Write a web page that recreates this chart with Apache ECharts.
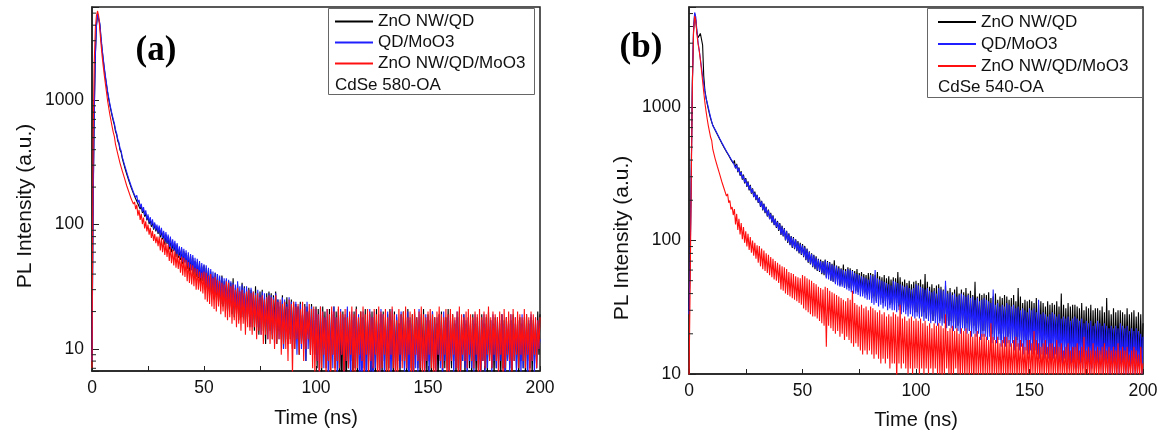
<!DOCTYPE html>
<html>
<head>
<meta charset="utf-8">
<script src="https://cdn.jsdelivr.net/npm/echarts@6/dist/echarts.min.js"></script>
<style>
  html, body { margin: 0; padding: 0; background: #fff; }
  #chart { width: 1164px; height: 435px; }
</style>
</head>
<body>
<div id="chart"></div>
<script>
// Labels
const seriesNames = ['ZnO NW/QD', 'QD/MoO3', 'ZnO NW/QD/MoO3'];
const sampleNotes = ['CdSe 580-OA', 'CdSe 540-OA'];
const panelTags = ['(a)', '(b)'];
const timeTicks = [0, 50, 100, 150, 200];
const intensityTicks = [10, 100, 1000];

// Time channels: 0 to 200 ns in 0.5 ns steps (401 channels); each row below covers 10 ns
const times = [];
for (let k = 0; k <= 400; k++) times.push(k * 0.5);

// ---- Panel (a): CdSe 580-OA ----
const aNwQd = [
  9, 150, 800, 2300, 4000, 4900, 5000, 4050, 3150, 2550, 2120, 1780, 1520, 1310, 1140, 1010, 905, 820, 745, 680,
  630, 560, 528, 470, 447, 398, 381, 341, 329, 293, 286, 255, 251, 224, 219, 198, 196, 178, 177, 161,
  166, 147, 152, 133, 143, 124, 132, 116, 124, 108, 117, 101, 111, 96, 106, 91, 101, 88, 96, 84,
  95, 79, 90, 76, 86, 69, 83, 70, 80, 63, 78, 60, 72, 61, 70, 55, 69, 54, 63, 52,
  64, 48, 61, 50, 59, 44, 57, 42, 56, 43, 54, 39, 51, 38, 50, 37, 49, 34, 46, 35,
  47, 30, 45, 32, 44, 27, 42, 28, 38, 25, 41, 26, 40, 24, 36, 23, 39, 22, 35, 24,
  36, 20, 35, 24, 34, 19, 37, 18, 31, 21, 33, 17, 29, 19, 34, 18, 32, 16, 30, 19,
  31, 15, 30, 19, 28, 14, 32, 15, 25, 13, 29, 17, 30, 14, 26, 11, 28, 16, 29, 14,
  28, 12, 27, 16, 29, 11, 25, 14, 22, 12, 27, 10, 24, 15, 26, 11, 21, 12, 25, 10,
  24, 10, 23, 14, 22, 9, 24, 11, 19, 10, 23, 8, 22, 13, 20, 9, 23, 11, 17, 9,
  22, 7, 21, 9, 19, 6, 22, 10, 20, 7, 17, 8, 21, 6, 19, 9, 22, 7, 20, 8,
  21, 5, 19, 4, 20, 6, 18, 4, 21, 7, 19, 8, 17, 5, 20, 7, 22, 6, 18, 9,
  20, 7, 18, 8, 21, 6, 17, 9, 19, 5, 20, 8, 18, 6, 21, 7, 16, 9, 19, 6,
  20, 8, 18, 5, 19, 7, 21, 9, 17, 6, 20, 7, 18, 8, 16, 6, 19, 9, 20, 7,
  18, 6, 21, 8, 17, 7, 19, 5, 20, 9, 18, 7, 16, 6, 19, 8, 21, 7, 17, 6,
  19, 8, 17, 6, 20, 7, 18, 9, 16, 5, 19, 8, 20, 6, 17, 7, 18, 8, 21, 6,
  17, 7, 19, 8, 16, 6, 18, 7, 20, 5, 17, 8, 19, 6, 16, 9, 18, 7, 17, 6,
  19, 8, 16, 6, 18, 7, 17, 5, 19, 8, 16, 7, 18, 6, 20, 8, 17, 7, 16, 6,
  18, 7, 17, 8, 16, 6, 19, 7, 17, 5, 18, 8, 16, 7, 17, 6, 19, 8, 16, 7,
  17, 6, 18, 8, 16, 7, 17, 6, 19, 8, 16, 7, 18, 6, 17, 8, 16, 7, 20, 9,
  19
];
const aQdMo = [
  8, 130, 760, 2250, 3950, 4950, 5050, 4150, 3250, 2620, 2180, 1830, 1560, 1350, 1170, 1040, 930, 840, 765, 700,
  650, 580, 541, 486, 460, 411, 392, 350, 338, 303, 294, 264, 258, 230, 227, 204, 203, 182, 183, 165,
  172, 150, 158, 137, 147, 127, 138, 119, 130, 110, 121, 104, 115, 99, 110, 93, 104, 90, 100, 86,
  98, 82, 94, 78, 89, 73, 87, 71, 83, 66, 80, 64, 76, 62, 74, 58, 71, 56, 67, 54,
  66, 50, 64, 49, 62, 46, 60, 45, 58, 43, 57, 41, 54, 40, 53, 38, 51, 37, 49, 36,
  48, 32, 47, 31, 45, 29, 44, 30, 42, 27, 41, 28, 40, 26, 39, 25, 38, 24, 37, 23,
  37, 21, 36, 22, 35, 20, 34, 21, 33, 19, 35, 20, 32, 18, 33, 19, 31, 17, 32, 18,
  30, 16, 31, 15, 29, 17, 28, 14, 30, 15, 27, 13, 29, 16, 28, 14, 26, 12, 28, 15,
  27, 13, 26, 11, 28, 14, 25, 12, 24, 13, 26, 10, 25, 12, 23, 11, 26, 13, 24, 10,
  23, 11, 24, 9, 22, 12, 23, 10, 21, 11, 22, 8, 24, 10, 20, 12, 22, 9, 21, 10,
  21, 8, 19, 6, 22, 9, 20, 7, 18, 10, 21, 5, 19, 8, 20, 7, 22, 9, 18, 6,
  20, 7, 21, 9, 18, 6, 19, 8, 22, 7, 17, 5, 20, 9, 18, 7, 21, 8, 19, 4,
  18, 4, 20, 7, 17, 4, 19, 8, 21, 6, 18, 4, 20, 7, 17, 9, 19, 5, 21, 8,
  19, 6, 17, 8, 20, 7, 18, 5, 21, 8, 17, 6, 19, 9, 16, 7, 20, 8, 18, 6,
  17, 7, 20, 4, 18, 8, 16, 4, 19, 7, 17, 6, 21, 8, 18, 7, 16, 5, 19, 8,
  18, 6, 17, 8, 20, 7, 16, 6, 18, 9, 19, 7, 17, 5, 20, 8, 16, 7, 18, 6,
  19, 8, 16, 6, 17, 7, 20, 9, 18, 6, 16, 8, 19, 7, 17, 5, 18, 8, 16, 7,
  17, 6, 19, 8, 16, 7, 18, 5, 17, 8, 19, 6, 16, 7, 18, 9, 17, 6, 19, 8,
  16, 7, 18, 6, 17, 8, 19, 7, 16, 5, 18, 8, 17, 6, 19, 7, 16, 8, 18, 6,
  17, 8, 16, 6, 19, 7, 18, 8, 16, 5, 17, 7, 19, 8, 16, 6, 18, 7, 17, 10,
  12
];
const aAll = [
  7, 500, 2000, 3800, 4800, 5200, 4700, 3700, 2850, 2280, 1880, 1580, 1340, 1150, 980, 860, 760, 680, 610, 550,
  508, 441, 428, 370, 361, 312, 310, 270, 268, 236, 236, 205, 209, 182, 186, 161, 167, 146, 152, 133,
  144, 118, 131, 109, 122, 101, 114, 93, 106, 88, 100, 83, 94, 78, 89, 74, 84, 71, 80, 67,
  80, 62, 78, 60, 76, 57, 71, 55, 69, 51, 66, 49, 63, 47, 61, 45, 58, 44, 56, 41,
  55, 39, 54, 38, 52, 35, 50, 34, 48, 33, 47, 32, 45, 30, 44, 30, 42, 29, 41, 28,
  42, 25, 41, 24, 39, 23, 40, 22, 37, 21, 38, 20, 36, 22, 35, 19, 34, 20, 33, 18,
  35, 17, 34, 18, 32, 16, 33, 17, 30, 15, 31, 16, 29, 14, 30, 16, 28, 13, 29, 15,
  30, 14, 28, 13, 29, 15, 27, 12, 28, 14, 26, 13, 27, 11, 25, 13, 26, 12, 27, 11,
  26, 12, 25, 10, 27, 11, 24, 12, 25, 9, 23, 11, 24, 10, 22, 8, 25, 11, 23, 6,
  24, 10, 22, 12, 23, 9, 21, 11, 24, 8, 22, 10, 20, 12, 23, 9, 21, 7, 22, 6,
  21, 8, 19, 5, 22, 7, 20, 9, 18, 6, 21, 8, 19, 5, 22, 9, 20, 6, 18, 8,
  22, 7, 20, 9, 19, 5, 21, 8, 18, 7, 20, 9, 22, 6, 19, 6, 21, 7, 18, 9,
  20, 8, 22, 5, 19, 9, 21, 6, 20, 8, 18, 7, 21, 9, 19, 5, 22, 6, 20, 7,
  19, 9, 21, 6, 18, 6, 20, 9, 22, 7, 19, 5, 17, 6, 21, 9, 19, 7, 20, 8,
  22, 7, 18, 9, 20, 5, 19, 6, 21, 9, 18, 8, 20, 7, 22, 6, 19, 6, 18, 8,
  20, 9, 21, 7, 19, 5, 18, 6, 20, 9, 22, 8, 19, 7, 18, 9, 21, 5, 19, 6,
  21, 8, 19, 9, 18, 7, 20, 5, 22, 6, 19, 9, 18, 8, 20, 7, 21, 9, 19, 8,
  18, 7, 20, 9, 19, 5, 21, 6, 18, 8, 20, 7, 19, 9, 22, 8, 18, 7, 20, 9,
  19, 8, 18, 6, 20, 9, 19, 5, 21, 7, 18, 9, 20, 8, 19, 6, 21, 8, 18, 9,
  20, 7, 19, 9, 18, 8, 21, 7, 19, 9, 18, 6, 20, 8, 19, 9, 18, 7, 17, 10,
  18
];

// ---- Panel (b): CdSe 540-OA ----
const bNwQd = [
  30, 70, 350, 1600, 3700, 5000, 4400, 3600, 3300, 3350, 3550, 3600, 2900, 1700, 1330, 1180, 1060, 965, 885, 820,
  770, 728, 735, 671, 675, 621, 628, 574, 580, 532, 541, 494, 506, 462, 472, 432, 442, 403, 414, 378,
  398, 346, 375, 324, 352, 305, 330, 285, 311, 267, 293, 252, 277, 237, 261, 224, 246, 211, 232, 200,
  220, 191, 210, 178, 198, 168, 189, 160, 179, 151, 170, 144, 161, 136, 154, 130, 146, 124, 140, 118,
  135, 110, 129, 107, 124, 100, 118, 96, 113, 92, 108, 88, 106, 86, 102, 83, 99, 80, 96, 78,
  94, 75, 91, 71, 87, 68, 83, 66, 80, 63, 78, 61, 76, 59, 73, 58, 72, 56, 70, 55,
  72, 53, 70, 55, 69, 50, 67, 49, 71, 48, 65, 51, 64, 46, 62, 47, 66, 44, 61, 45,
  63, 44, 62, 43, 60, 45, 59, 42, 61, 41, 57, 43, 58, 40, 56, 41, 55, 39, 57, 40,
  57, 37, 56, 38, 55, 35, 58, 36, 54, 37, 53, 34, 55, 35, 52, 36, 54, 33, 51, 34,
  53, 33, 52, 34, 58, 32, 53, 31, 49, 33, 51, 30, 48, 32, 50, 31, 47, 30, 49, 29,
  50, 29, 48, 28, 51, 27, 47, 29, 56, 26, 49, 27, 45, 28, 47, 25, 44, 27, 46, 26,
  47, 25, 45, 26, 43, 24, 46, 25, 42, 23, 44, 25, 41, 24, 43, 22, 45, 23, 40, 24,
  43, 23, 41, 22, 44, 24, 40, 21, 42, 22, 39, 23, 49, 21, 38, 22, 40, 20, 39, 21,
  40, 21, 39, 20, 41, 22, 37, 20, 38, 19, 40, 21, 36, 20, 38, 18, 37, 20, 39, 19,
  38, 19, 36, 20, 37, 18, 39, 19, 35, 18, 44, 19, 38, 17, 34, 19, 36, 18, 35, 17,
  36, 18, 35, 17, 34, 19, 37, 17, 33, 18, 35, 16, 34, 18, 32, 17, 35, 16, 33, 17,
  34, 17, 33, 16, 35, 17, 32, 16, 40, 15, 33, 17, 31, 16, 34, 15, 32, 16, 33, 15,
  33, 16, 32, 15, 31, 16, 34, 15, 30, 16, 32, 14, 31, 15, 33, 14, 30, 15, 31, 14,
  31, 15, 30, 14, 32, 15, 29, 14, 37, 13, 30, 15, 28, 14, 31, 13, 29, 14, 30, 13,
  30, 14, 29, 13, 28, 14, 31, 13, 28, 14, 29, 12, 30, 13, 27, 14, 29, 12, 28, 13,
  24
];
const bQdMo = [
  28, 65, 320, 1550, 3800, 5100, 4700, 3700, 3050, 2650, 2300, 1980, 1700, 1480, 1300, 1160, 1080, 990, 910, 840,
  780, 722, 728, 676, 668, 628, 617, 580, 571, 538, 533, 500, 497, 466, 465, 436, 435, 407, 407, 382,
  392, 348, 369, 329, 347, 309, 325, 290, 306, 272, 288, 256, 272, 240, 256, 227, 242, 213, 228, 203,
  218, 193, 207, 180, 196, 170, 187, 162, 177, 153, 168, 145, 159, 138, 152, 131, 144, 126, 138, 120,
  133, 111, 127, 108, 122, 101, 117, 98, 111, 93, 107, 89, 104, 87, 101, 84, 97, 81, 94, 79,
  92, 76, 89, 72, 86, 69, 82, 67, 79, 64, 77, 62, 74, 60, 72, 59, 70, 57, 69, 56,
  71, 52, 69, 51, 68, 50, 66, 49, 65, 47, 64, 46, 62, 45, 61, 45, 60, 44, 59, 43,
  61, 42, 60, 41, 59, 40, 57, 40, 56, 39, 55, 38, 54, 38, 53, 37, 52, 36, 51, 36,
  55, 34, 54, 33, 60, 34, 52, 32, 51, 33, 50, 31, 49, 32, 48, 30, 47, 31, 46, 30,
  50, 30, 49, 29, 48, 30, 47, 28, 46, 29, 45, 28, 46, 27, 44, 28, 43, 27, 44, 26,
  47, 27, 46, 26, 45, 27, 44, 25, 43, 26, 44, 25, 42, 24, 41, 25, 42, 24, 40, 23,
  44, 24, 43, 23, 42, 24, 50, 22, 40, 23, 41, 22, 39, 21, 40, 22, 38, 21, 39, 20,
  40, 22, 39, 21, 38, 20, 39, 21, 37, 19, 38, 20, 36, 19, 37, 20, 35, 18, 36, 19,
  37, 19, 36, 18, 35, 19, 34, 17, 43, 18, 33, 17, 34, 18, 32, 16, 33, 17, 32, 16,
  34, 17, 33, 16, 32, 17, 33, 15, 31, 16, 32, 15, 30, 16, 31, 14, 30, 15, 29, 14,
  31, 15, 30, 14, 31, 15, 29, 14, 36, 13, 28, 14, 29, 13, 28, 14, 27, 13, 28, 12,
  29, 13, 28, 14, 27, 12, 28, 13, 26, 12, 27, 13, 26, 12, 27, 11, 25, 12, 26, 11,
  27, 12, 26, 11, 25, 12, 26, 11, 24, 12, 25, 11, 24, 10, 25, 11, 23, 12, 24, 11,
  25, 11, 24, 12, 23, 10, 24, 11, 23, 12, 22, 10, 23, 11, 22, 10, 23, 11, 22, 10,
  24, 11, 23, 10, 22, 11, 23, 10, 21, 11, 22, 10, 21, 11, 22, 10, 21, 11, 20, 10,
  19
];
const bAll = [
  9, 45, 280, 1450, 3600, 4800, 4400, 3500, 2950, 2650, 2250, 1880, 1560, 1290, 1080, 930, 815, 725, 655, 595,
  560, 480, 476, 410, 413, 358, 362, 314, 318, 274, 281, 243, 250, 215, 223, 192, 199, 171, 178, 155,
  172, 132, 158, 120, 145, 111, 135, 102, 126, 96, 117, 90, 112, 85, 106, 81, 100, 77, 96, 73,
  92, 68, 91, 64, 87, 61, 84, 59, 80, 57, 78, 55, 75, 53, 73, 51, 70, 50, 68, 48,
  66, 43, 64, 42, 63, 40, 61, 39, 58, 38, 57, 37, 56, 36, 54, 35, 53, 34, 52, 33,
  55, 31, 54, 30, 52, 29, 51, 28, 50, 27, 48, 27, 47, 26, 45, 25, 44, 24, 43, 23,
  45, 16, 44, 23, 42, 22, 41, 21, 40, 20, 39, 21, 38, 19, 37, 20, 36, 18, 35, 19,
  37, 18, 36, 17, 42, 16, 34, 17, 33, 16, 32, 15, 33, 14, 31, 15, 32, 14, 30, 15,
  32, 14, 31, 13, 30, 14, 29, 13, 30, 12, 28, 13, 29, 12, 27, 13, 28, 11, 27, 12,
  29, 12, 28, 9, 27, 12, 33, 11, 26, 12, 27, 11, 25, 10, 26, 11, 27, 10, 25, 11,
  26, 11, 25, 10, 26, 11, 24, 10, 25, 11, 23, 10, 24, 11, 22, 10, 24, 11, 23, 10,
  24, 10, 23, 9, 22, 10, 28, 11, 21, 10, 22, 9, 23, 10, 21, 11, 22, 10, 20, 9,
  22, 10, 21, 9, 22, 10, 20, 9, 21, 10, 19, 9, 20, 10, 21, 9, 19, 10, 20, 9,
  20, 10, 19, 9, 18, 10, 24, 9, 19, 10, 18, 9, 19, 10, 17, 9, 18, 10, 19, 9,
  19, 9, 18, 10, 17, 9, 18, 10, 19, 9, 17, 10, 18, 9, 17, 10, 16, 9, 18, 10,
  18, 9, 17, 10, 21, 9, 18, 10, 17, 9, 16, 10, 17, 9, 18, 10, 16, 9, 17, 10,
  17, 9, 16, 10, 18, 9, 16, 10, 17, 9, 15, 10, 16, 9, 17, 10, 15, 9, 16, 10,
  16, 9, 17, 10, 15, 9, 16, 10, 19, 9, 15, 10, 16, 9, 15, 10, 17, 9, 15, 10,
  16, 9, 15, 10, 16, 9, 17, 10, 15, 9, 16, 10, 15, 9, 16, 10, 15, 9, 17, 10,
  15, 9, 16, 10, 15, 9, 16, 10, 14, 9, 15, 10, 16, 9, 15, 10, 14, 9, 16, 10,
  12
];

const colors = ['#000000', '#1f1fff', '#ff1010'];
const pair = values => values.map((v, i) => [times[i], v]);

const panels = [
  { curves: [pair(aNwQd), pair(aQdMo), pair(aAll)], yMin: 6.66, yMax: 5600 },
  { curves: [pair(bNwQd), pair(bQdMo), pair(bAll)], yMin: 10, yMax: 5600 }
];

const FONT = '"Liberation Sans", Arial, sans-serif';
const axisColor = '#222';

// Log minor ticks (2..9 per decade) inside the visible range
function minorValues(lo, hi) {
  const out = [];
  for (let k = 0; k <= 3; k++) {
    for (let m = 2; m <= 9; m++) {
      const v = m * Math.pow(10, k);
      if (v >= lo && v <= hi) out.push(v);
    }
  }
  return out;
}

function minorTickSeries(idx, lo, hi) {
  return {
    type: 'custom',
    xAxisIndex: idx,
    yAxisIndex: idx,
    silent: true,
    clip: false,
    z: 5,
    data: minorValues(lo, hi).map(v => [0, v]),
    renderItem: (params, api) => {
      const p = api.coord([0, api.value(1)]);
      return {
        type: 'line',
        shape: { x1: p[0], y1: p[1], x2: p[0] + 4, y2: p[1] },
        style: { stroke: axisColor, lineWidth: 1 }
      };
    }
  };
}

const grids = [
  { left: 92, top: 7, width: 448, height: 364 },
  { left: 689, top: 7, width: 454, height: 367 }
];

const xAxes = grids.map((g, i) => ({
  type: 'value',
  gridIndex: i,
  min: 0,
  max: 200,
  interval: 25,
  name: 'Time (ns)',
  nameLocation: 'middle',
  nameGap: i === 0 ? 37 : 36,
  nameTextStyle: { fontFamily: FONT, fontSize: 20, color: '#111' },
  axisLine: { show: true, lineStyle: { color: axisColor, width: 1.5 } },
  axisTick: { show: true, inside: true, length: 5, lineStyle: { color: axisColor, width: 1 } },
  axisLabel: {
    margin: 8,
    fontFamily: FONT,
    fontSize: 17.5,
    color: '#111',
    formatter: v => (timeTicks.includes(v) ? String(v) : '')
  },
  splitLine: { show: false }
}));

const yAxes = panels.map((p, i) => ({
  type: 'log',
  logBase: 10,
  gridIndex: i,
  min: p.yMin,
  max: p.yMax,
  axisLine: { show: true, lineStyle: { color: axisColor, width: 1.5 } },
  axisTick: { show: true, inside: true, length: 7, lineStyle: { color: axisColor, width: 1 } },
  axisLabel: {
    margin: 8,
    fontFamily: FONT,
    fontSize: 17.5,
    color: '#111',
    formatter: v => {
      const hit = intensityTicks.find(t => Math.abs(v - t) / t < 1e-6);
      return hit ? String(hit) : '';
    }
  },
  splitLine: { show: false }
}));

const series = [];
panels.forEach((p, i) => {
  p.curves.forEach((data, k) => {
    series.push({
      type: 'line',
      name: seriesNames[k],
      xAxisIndex: i,
      yAxisIndex: i,
      data: data,
      showSymbol: false,
      symbol: 'none',
      clip: true,
      color: colors[k],
      lineStyle: { color: colors[k], width: 1.1 },
      animation: false
    });
  });
  series.push(minorTickSeries(i, p.yMin, p.yMax));
});

const legendBoxes = [
  { x: 328.5, y: 8.5, w: 206, h: 86, left: 335, top: 13, gap: 4, noteY: 85 },
  { x: 927.5, y: 8.5, w: 215, h: 89, left: 938, top: 13.5, gap: 5, noteY: 87 }
];

const legends = legendBoxes.map(b => ({
  orient: 'vertical',
  left: b.left,
  top: b.top,
  padding: 0,
  itemWidth: 38,
  itemHeight: 2,
  itemGap: b.gap,
  icon: 'rect',
  selectedMode: false,
  data: seriesNames,
  textStyle: { fontFamily: FONT, fontSize: 17, lineHeight: 17, color: '#111' }
}));

const graphics = [];
legendBoxes.forEach((b, i) => {
  graphics.push({
    type: 'rect',
    shape: { x: b.x, y: b.y, width: b.w, height: b.h },
    style: { fill: 'rgba(0,0,0,0)', stroke: '#666', lineWidth: 1 },
    z: 10
  });
  graphics.push({
    type: 'text',
    x: b.left,
    y: b.noteY,
    style: { text: sampleNotes[i], fontFamily: FONT, fontSize: 17, fill: '#111', align: 'left', verticalAlign: 'middle' },
    z: 10
  });
});

// Panel tags and rotated y-axis titles
const tagPos = [[156, 51], [641, 48]];
const yTitlePos = [[25, 206], [622, 238]];
panelTags.forEach((tag, i) => {
  graphics.push({
    type: 'text',
    x: tagPos[i][0],
    y: tagPos[i][1],
    style: { text: tag, fontFamily: '"Liberation Serif", "Times New Roman", serif', fontWeight: 'bold', fontSize: 35, fill: '#000', align: 'center', verticalAlign: 'middle' },
    z: 10
  });
  graphics.push({
    type: 'text',
    x: yTitlePos[i][0],
    y: yTitlePos[i][1],
    rotation: Math.PI / 2,
    style: { text: 'PL Intensity (a.u.)', fontFamily: FONT, fontSize: 21, fill: '#111', align: 'center', verticalAlign: 'middle' },
    z: 10
  });
});

const chart = echarts.init(document.getElementById('chart'), null, { renderer: 'canvas' });
chart.setOption({
  backgroundColor: '#fff',
  animation: false,
  grid: grids.map(g => Object.assign({ show: true, borderColor: axisColor, borderWidth: 1.5, backgroundColor: 'rgba(0,0,0,0)', containLabel: false }, g)),
  xAxis: xAxes,
  yAxis: yAxes,
  legend: legends,
  series: series,
  graphic: graphics
});
</script>
</body>
</html>
